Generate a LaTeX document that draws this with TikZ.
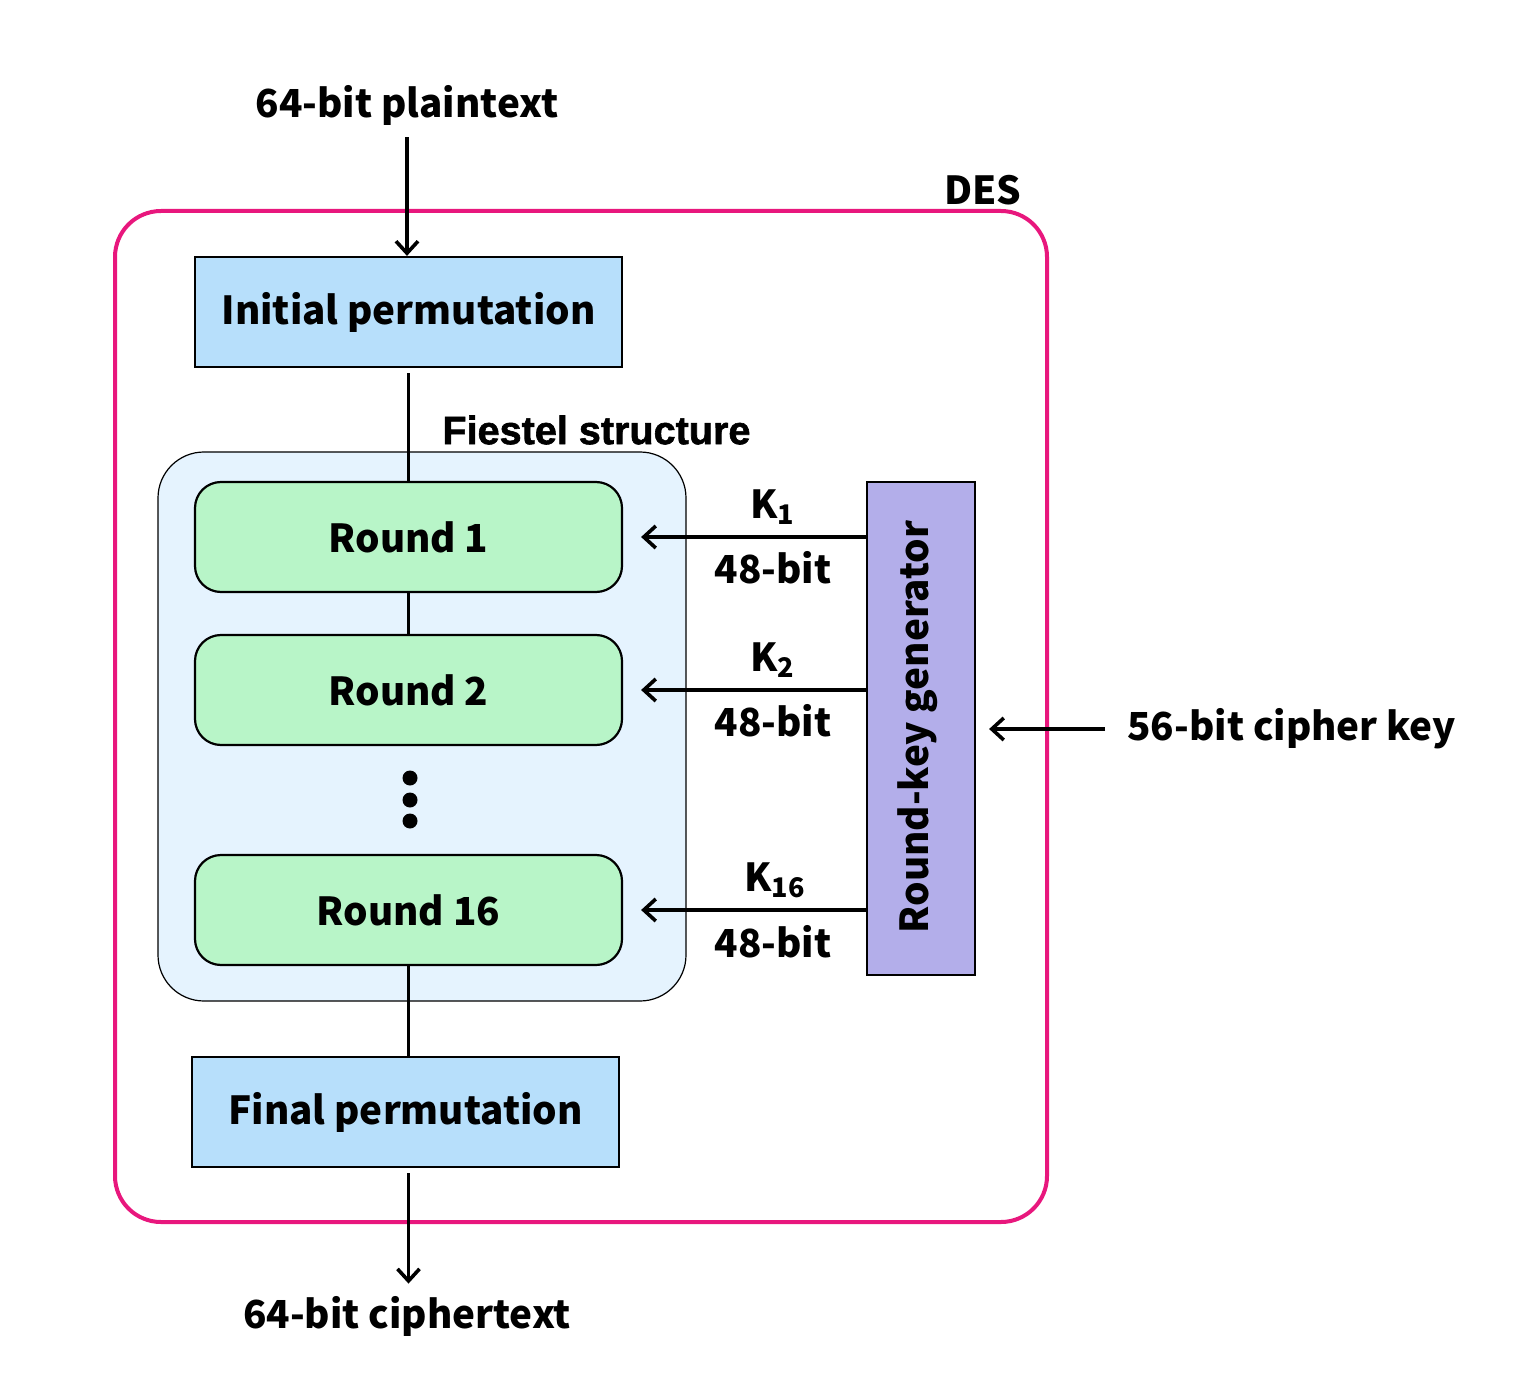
\documentclass[tikz,border=0pt]{standalone}
\usepackage{fontspec}
\newfontfamily\srcf{Noto Sans CJK SC}
\newfontfamily\arialf{Liberation Sans}[BoldFeatures={FakeBold=1.5}]
\usetikzlibrary{arrows.meta,calc}
\definecolor{despink}{HTML}{E8177D}
\definecolor{ipblue}{HTML}{B7DFFB}
\definecolor{fsblue}{HTML}{E5F3FE}
\definecolor{rdgreen}{HTML}{B8F5C8}
\definecolor{rkpurple}{HTML}{B3AEEA}
\tikzset{
  mainfont/.style={font=\srcf\bfseries\fontsize{19.3}{23}\selectfont},
  lbl/.style={inner sep=0pt,mainfont},
  permbox/.style={draw=black,line width=1.1pt,fill=ipblue,minimum width=213.5pt,minimum height=55pt,inner sep=0pt,mainfont},
  roundbox/.style={draw=black,line width=1.1pt,fill=rdgreen,rounded corners=13pt,minimum width=213.5pt,minimum height=55pt,inner sep=0pt,mainfont},
  conn/.style={line width=1.8pt,draw=black},
  arr/.style={line width=1.8pt,draw=black,-{Straight Barb[length=6pt,width=11pt,line width=1.8pt]}},
  dotc/.style={circle,fill=black,inner sep=0pt,minimum size=7.5pt},
}
\begin{document}
\begin{tikzpicture}[x=0.5pt,y=-0.5pt]
\useasboundingbox (0,0) rectangle (1530,1395);
% DES frame
\node[draw=despink,line width=2pt,rounded corners=23pt,minimum width=466pt,minimum height=505.5pt,inner sep=0pt] (des) at (581,716.5) {};
\node[lbl] (deslbl) at (983,190) {DES};
% Fiestel
\node[draw=black,line width=0.6pt,fill=fsblue,rounded corners=23pt,minimum width=264pt,minimum height=274.5pt,inner sep=0pt] (fs) at (422,726.5) {};
\node[inner sep=0pt,font=\arialf\bfseries\fontsize{19.8}{23}\selectfont,anchor=west] (fslbl) at (442,430) {Fiestel structure};
% boxes
\node[permbox] (ip) at (408.5,312) {Initial permutation};
\node[roundbox] (r1) at (408.5,537) {Round 1};
\node[roundbox] (r2) at (408.5,690) {Round 2};
\node[roundbox] (r16) at (408.5,910) {Round 16};
\node[permbox] (fp) at (405.5,1112) {Final permutation};
\node[draw=black,line width=1.1pt,fill=rkpurple,minimum width=54pt,minimum height=246.5pt,inner sep=0pt] (rkg) at (921,728.5) {};
\node[lbl,rotate=90] (rkglbl) at (918,727) {Round-key generator};
% dots
\node[dotc] (d1) at (410,778) {};
\node[dotc] (d2) at (410,800) {};
\node[dotc] (d3) at (410,821) {};
% texts
\node[lbl] (pt) at (407,105) {64-bit plaintext};
\node[lbl] (ct) at (407,1316) {64-bit ciphertext};
\node[lbl,anchor=west] (key) at (1127,729) {56-bit cipher key};
\node[lbl] (k1) at (773,507) {K\textsubscript{1}};
\node[lbl] (b1) at (773,568) {48-bit};
\node[lbl] (k2) at (773,660) {K\textsubscript{2}};
\node[lbl] (b2) at (773,721) {48-bit};
\node[lbl] (k16) at (775,880) {K\textsubscript{16}};
\node[lbl] (b16) at (773,942) {48-bit};
% connectors
\draw[arr] ([yshift=-6pt]pt.south) -- (pt.south |- ip.north);
\draw[conn] ([yshift=-2.5pt]ip.south) -- (r1.north);
\draw[conn] (r1.south) -- (r2.north);
\draw[conn] (r16.south) -- (r16.south |- fp.north);
\draw[arr] ([yshift=-2.5pt]r16.south |- fp.south) -- ([yshift=6pt]r16.south |- ct.north);
\draw[arr] (rkg.west |- r1.east) -- ([xshift=9pt]r1.east);
\draw[arr] (rkg.west |- r2.east) -- ([xshift=9pt]r2.east);
\draw[arr] (rkg.west |- r16.east) -- ([xshift=9pt]r16.east);
\draw[arr] ([xshift=-11pt]key.west) -- ([xshift=6.5pt]rkg.east |- key.west);
\end{tikzpicture}
\end{document}
